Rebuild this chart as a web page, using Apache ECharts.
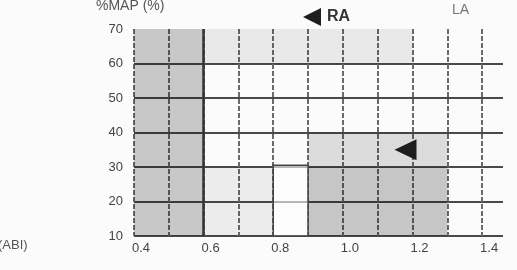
<!DOCTYPE html>
<html lang="en">
<head>
    <meta charset="UTF-8">
    <title>%MAP vs ABI</title>
    <script src="https://cdn.jsdelivr.net/npm/echarts@6/dist/echarts.min.js"></script>
</head>
<style>
    body { margin: 0; background: #fbfbfb; }
</style>
<body>
    <div id="box" style="width:517px;height:270px"></div>
</body>
<script>
    // tick labels
    const xTicks = [0.4, 0.6, 0.8, 1.0, 1.2, 1.4];
    const yTicks = [10, 20, 30, 40, 50, 60, 70];

    // RA point (ABI, %MAP)
    const raPoint = [[1.18, 35]];

    // shaded zones: [abiFrom, abiTo, mapFrom, mapTo]
    const zoneA = [0.4, 0.6, 10, 70];
    const zoneTop = [0.6, 1.2, 60, 70];
    const zoneMidLow = [0.6, 0.8, 10, 30];
    const zoneBLow = [0.9, 1.3, 10, 30];
    const zoneBHigh = [0.9, 1.3, 30, 40];
    const boxC = [0.8, 0.9, 10, 30.5];

    const leftTri = 'path://M0,5 L10,0 L10,10 Z';

    function zone(z, fill, border) {
        let style = { color: fill };
        if (border) {
            style.borderColor = border;
            style.borderWidth = 1.5;
        }
        return [
            { xAxis: z[0], yAxis: z[2], itemStyle: style },
            { xAxis: z[1], yAxis: z[3] }
        ];
    }

    var myChart = echarts.init(document.getElementById('box'));
    var option = {
        backgroundColor: '#fbfbfb',
        animation: false,
        textStyle: { fontFamily: 'Liberation Sans, Arial, sans-serif' },
        grid: { left: 134, right: 14, top: 29, bottom: 34 },
        legend: {
            data: ['RA'],
            left: 298,
            top: 3,
            itemWidth: 20,
            itemHeight: 18,
            itemGap: 6,
            icon: leftTri,
            textStyle: { fontSize: 16, color: '#333', fontWeight: 'bold' }
        },
        graphic: [
            { type: 'text', left: 96, top: -1, style: { text: '%MAP (%)', fontSize: 14, fill: '#555', fontFamily: 'Liberation Sans, Arial' } },
            { type: 'text', left: 452, top: 3, style: { text: 'LA', fontSize: 14, fill: '#777', fontFamily: 'Liberation Sans, Arial' } },
            { type: 'text', left: -2, top: 239, style: { text: '(ABI)', fontSize: 13, fill: '#555', fontFamily: 'Liberation Sans, Arial' } }
        ],
        xAxis: {
            type: 'value',
            min: 0.4,
            max: 1.46,
            interval: 0.1,
            axisLine: { show: false },
            axisTick: { show: false },
            axisLabel: {
                fontSize: 13,
                color: '#444',
                margin: 6,
                padding: [0, 0, 0, 14],
                showMaxLabel: false,
                formatter: function (v) {
                    let hit = xTicks.find(t => Math.abs(t - v) < 1e-6);
                    return hit === undefined ? '' : hit.toFixed(1);
                }
            },
            splitLine: {
                show: true,
                showMaxLine: false,
                lineStyle: { color: '#6a6a6a', width: 2, type: [5, 2] }
            }
        },
        yAxis: {
            type: 'value',
            min: yTicks[0],
            max: yTicks[yTicks.length - 1],
            interval: 10,
            axisLine: { show: false },
            axisTick: { show: false },
            axisLabel: { fontSize: 13, color: '#444', margin: 11 },
            splitLine: {
                show: true,
                showMaxLine: false,
                lineStyle: { color: '#4a4a4a', width: 2 }
            }
        },
        series: [
            {
                // background zones and the solid 0.6 line
                name: 'zones',
                type: 'scatter',
                data: [],
                z: 1,
                markArea: {
                    silent: true,
                    data: [
                        zone(zoneA, 'rgba(0,0,0,0.2)'),
                        zone(zoneTop, 'rgba(0,0,0,0.07)'),
                        zone(zoneMidLow, 'rgba(0,0,0,0.06)'),
                        zone(zoneBLow, 'rgba(0,0,0,0.21)'),
                        zone(zoneBHigh, 'rgba(0,0,0,0.12)'),
                        zone(boxC, 'rgba(255,255,255,0.6)', '#444')
                    ]
                },
                markLine: {
                    silent: true,
                    symbol: 'none',
                    label: { show: false },
                    lineStyle: { color: '#333', width: 2.5, type: 'solid' },
                    data: [{ xAxis: xTicks[1] }]
                }
            },
            {
                name: 'RA',
                type: 'scatter',
                data: raPoint,
                symbol: leftTri,
                symbolSize: [22, 21],
                itemStyle: { color: '#1e1e1e', opacity: 1 },
                z: 10
            }
        ]
    };
    myChart.setOption(option);
</script>
</html>
